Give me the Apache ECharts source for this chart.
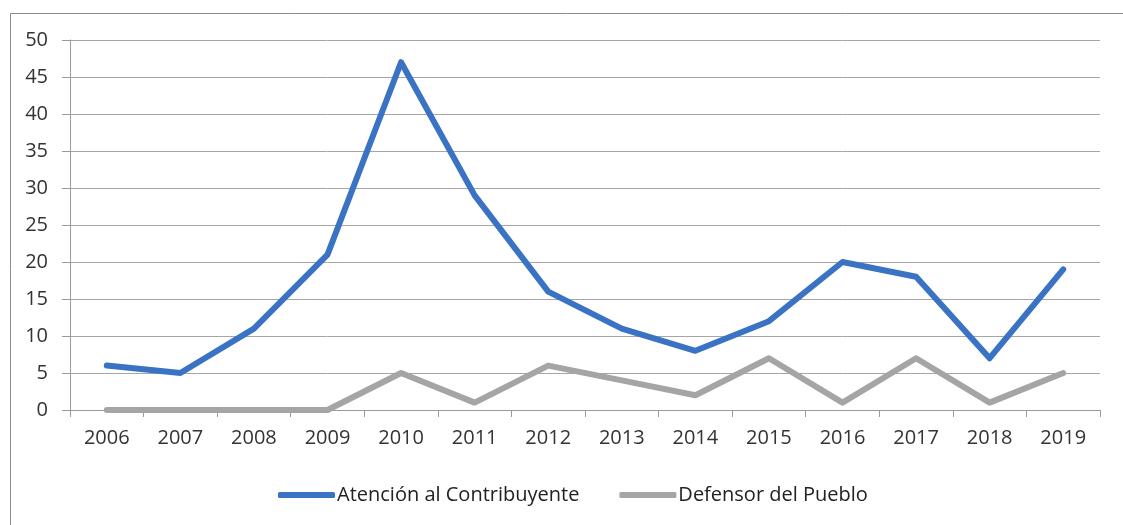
<!DOCTYPE html>
<html>
<head>
<meta charset="utf-8">
<script src="https://cdn.jsdelivr.net/npm/echarts@6/dist/echarts.min.js"></script>
<style>
  html, body { margin: 0; padding: 0; background: #fff; }
  #chart { width: 1123px; height: 525px; }
</style>
</head>
<body>
<div id="chart"></div>
<script>
  // datos
  var years = ['2006', '2007', '2008', '2009', '2010', '2011', '2012', '2013', '2014', '2015', '2016', '2017', '2018', '2019'];
  var atencion = [6, 5, 11, 21, 47, 29, 16, 11, 8, 12, 20, 18, 7, 19];
  var defensor = [0, 0, 0, 0, 5, 1, 6, 4, 2, 7, 1, 7, 1, 5];
  var seriesNames = ['Atención al Contribuyente', 'Defensor del Pueblo'];

  var font = '"Open Sans", "Noto Sans", sans-serif';
  var chart = echarts.init(document.getElementById('chart'));
  chart.setOption({
    backgroundColor: '#fff',
    animation: false,
    graphic: [{
      type: 'rect',
      left: 8,
      top: 11,
      shape: { width: 1200, height: 600 },
      style: { fill: 'none', stroke: '#8c8c8c', lineWidth: 1 },
      silent: true
    }],
    grid: {
      left: 70,
      right: 23,
      top: 40,
      bottom: 115
    },
    legend: {
      top: 480,
      left: 273,
      itemWidth: 57,
      itemHeight: 6,
      itemGap: 40,
      icon: 'roundRect',
      textStyle: { fontFamily: font, fontSize: 20, color: '#222', padding: [0, 0, 0, -3] },
      data: seriesNames
    },
    xAxis: {
      type: 'category',
      data: years,
      boundaryGap: true,
      axisLine: { lineStyle: { color: '#9a9a9a', width: 1 } },
      axisTick: { show: true, length: 7, lineStyle: { color: '#9a9a9a' } },
      axisLabel: { fontFamily: font, fontSize: 20, color: '#333', margin: 18 }
    },
    yAxis: {
      type: 'value',
      min: 0,
      max: 50,
      interval: 5,
      axisLine: { show: true, lineStyle: { color: '#9a9a9a', width: 1 } },
      axisTick: { show: true, length: 8, lineStyle: { color: '#9a9a9a' } },
      axisLabel: { fontFamily: font, fontSize: 20, color: '#333', margin: 22 },
      splitLine: { show: true, lineStyle: { color: '#a6a6a6', width: 1 } }
    },
    series: [
      {
        name: seriesNames[0],
        type: 'line',
        data: atencion,
        symbol: 'none',
        lineStyle: { color: '#3a73c4', width: 6, cap: 'round', join: 'round' },
        itemStyle: { color: '#3a73c4' }
      },
      {
        name: seriesNames[1],
        type: 'line',
        data: defensor,
        symbol: 'none',
        z: 1,
        lineStyle: { color: '#a5a5a5', width: 6, cap: 'round', join: 'round' },
        itemStyle: { color: '#a5a5a5' }
      }
    ]
  });
</script>
</body>
</html>
